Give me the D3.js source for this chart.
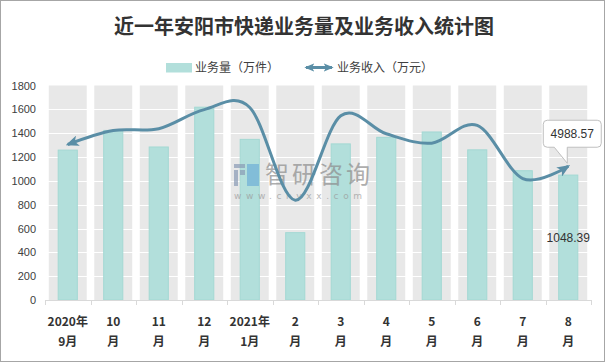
<!DOCTYPE html>
<html>
<head>
<meta charset="utf-8">
<script src="https://cdn.jsdelivr.net/npm/d3@7"></script>
<style>
  html, body { margin: 0; padding: 0; background: #fff; }
  svg { display: block; }
</style>
</head>
<body>
<svg id="chart" width="606" height="364"></svg>
<script>
// ---------- data ----------
const catLine1 = ["2020年", "10", "11", "12", "2021年", "2", "3", "4", "5", "6", "7", "8"];
const catLine2 = ["9月", "月", "月", "月", "1月", "月", "月", "月", "月", "月", "月", "月"];
const volume = [1258, 1423, 1284, 1618, 1348, 565, 1310, 1365, 1410, 1260, 1085, 1048.39];   // 业务量（万件）
const revenue = [5800, 6320, 6390, 7100, 7180, 3720, 6870, 6200, 5850, 6510, 4530, 4988.57]; // 业务收入（万元）
const yTicks = [0, 200, 400, 600, 800, 1000, 1200, 1400, 1600, 1800];
const title = "近一年安阳市快递业务量及业务收入统计图";
const legendLabels = ["业务量（万件）", "业务收入（万元）"];
const labelVolumeIndex = 11;
const labelRevenueIndex = 11;

// ---------- layout ----------
const svg = d3.select("#chart");
const plot = { left: 45, right: 591, top: 85.5, bottom: 300 };
const barColor = "#b2dfdb", barStroke = "#a3d8d3";
const lineColor = "#5a8ea6";
const bandColor = "#e8e8e8";

svg.append("rect").attr("x", 0.5).attr("y", 0.5).attr("width", 604).attr("height", 361)
  .attr("fill", "#fff").attr("stroke", "#a6a6a6");

const x = d3.scaleBand().domain(d3.range(volume.length)).range([plot.left, plot.right]);
const y = d3.scaleLinear().domain([0, 1800]).range([plot.bottom, plot.top]);
const y2 = d3.scaleLinear().domain([0, 8000]).range([plot.bottom, plot.top]);
const step = x.step();

// title
svg.append("text").attr("x", 304).attr("y", 34).attr("text-anchor", "middle")
  .attr("font-family", "'Noto Sans CJK SC', sans-serif").attr("font-weight", "bold")
  .attr("font-size", 20).attr("fill", "#333").text(title);

// legend
const lg = svg.append("g").attr("font-family", "'Noto Sans CJK SC', sans-serif").attr("font-size", 12).attr("fill", "#404040");
lg.append("rect").attr("x", 166).attr("y", 63).attr("width", 26).attr("height", 9.5).attr("fill", barColor);
lg.append("text").attr("x", 195).attr("y", 72).text(legendLabels[0]);

// arrow markers
const defs = svg.append("defs");
defs.append("marker").attr("id", "arr").attr("viewBox", "0 0 12 10")
  .attr("refX", 10).attr("refY", 5).attr("markerWidth", 13).attr("markerHeight", 11)
  .attr("markerUnits", "userSpaceOnUse").attr("orient", "auto-start-reverse")
  .append("path").attr("d", "M0,0 L12,5 L0,10 L3,5 Z").attr("fill", lineColor);
defs.append("marker").attr("id", "arrS").attr("viewBox", "0 0 12 10")
  .attr("refX", 10).attr("refY", 5).attr("markerWidth", 10).attr("markerHeight", 9)
  .attr("markerUnits", "userSpaceOnUse").attr("orient", "auto-start-reverse")
  .append("path").attr("d", "M0,0 L12,5 L0,10 L3,5 Z").attr("fill", lineColor);

lg.append("line").attr("x1", 306).attr("x2", 332).attr("y1", 67.5).attr("y2", 67.5)
  .attr("stroke", lineColor).attr("stroke-width", 3)
  .attr("marker-start", "url(#arrS)").attr("marker-end", "url(#arrS)");
lg.append("text").attr("x", 337).attr("y", 72).text(legendLabels[1]);

// gray category bands
const bandW = step * 0.835;
svg.append("g").selectAll("rect").data(volume).join("rect")
  .attr("x", (d, i) => x(i) + (step - bandW) / 2)
  .attr("y", y(1800)).attr("width", bandW).attr("height", y(0) - y(1800))
  .attr("fill", bandColor);

// white gridlines
svg.append("g").selectAll("line").data(yTicks.slice(1, -1)).join("line")
  .attr("x1", plot.left).attr("x2", plot.right)
  .attr("y1", d => Math.round(y(d)) + 0.5).attr("y2", d => Math.round(y(d)) + 0.5)
  .attr("stroke", "#fff").attr("stroke-width", 1);

// bars
const barW = step * 0.42;
svg.append("g").selectAll("rect").data(volume).join("rect")
  .attr("x", (d, i) => x(i) + (step - barW) / 2)
  .attr("y", d => y(d)).attr("width", barW).attr("height", d => y(0) - y(d))
  .attr("fill", barColor).attr("stroke", barStroke).attr("stroke-width", 1);

// watermark (drawn above bars)
const wm = svg.append("g").attr("opacity", 0.7);
wm.append("rect").attr("x", 234).attr("y", 164).attr("width", 11).attr("height", 4).attr("fill", "#8a9bb5");
wm.append("rect").attr("x", 234).attr("y", 170).attr("width", 4).attr("height", 16).attr("fill", "#8a9bb5");
wm.append("rect").attr("x", 240).attr("y", 170).attr("width", 5).attr("height", 5).attr("fill", "#8a9bb5");
wm.append("rect").attr("x", 247).attr("y", 164).attr("width", 12).attr("height", 22).attr("fill", "#6fb0d8");
wm.append("text").attr("x", 265).attr("y", 183).attr("font-family", "'Noto Sans CJK SC', sans-serif")
  .attr("font-size", 24).attr("fill", "#8c8c8c").attr("letter-spacing", 3).text("智研咨询");
wm.append("text").attr("x", 234).attr("y", 199).attr("font-family", "'DejaVu Sans', sans-serif")
  .attr("font-size", 9).attr("fill", "#9a9a9a").attr("letter-spacing", 4.6).text("www.chyxx.com");

// x axis line + ticks
const ax = svg.append("g").attr("stroke", "#d9d9d9").attr("stroke-width", 1);
ax.append("line").attr("x1", plot.left).attr("x2", plot.right).attr("y1", 300.5).attr("y2", 300.5);
ax.selectAll("line.t").data(d3.range(volume.length + 1)).join("line").attr("class", "t")
  .attr("x1", i => Math.round(plot.left + i * step) + 0.5).attr("x2", i => Math.round(plot.left + i * step) + 0.5)
  .attr("y1", 300).attr("y2", 305);

// y axis labels
svg.append("g").selectAll("text").data(yTicks).join("text")
  .attr("x", 36).attr("y", d => y(d) + 4).attr("text-anchor", "end")
  .attr("font-family", "'Liberation Sans', Arial, sans-serif").attr("font-size", 11).attr("fill", "#404040")
  .text(d => d);

// x labels
const xl = svg.append("g").attr("font-family", "'Noto Sans CJK SC', sans-serif").attr("font-weight", "bold")
  .attr("font-size", 12).attr("fill", "#333").attr("text-anchor", "middle");
xl.selectAll("text.l1").data(catLine1).join("text").attr("class", "l1")
  .attr("x", (d, i) => x(i) + step / 2).attr("y", 326).text(d => d);
xl.selectAll("text.l2").data(catLine2).join("text").attr("class", "l2")
  .attr("x", (d, i) => x(i) + step / 2).attr("y", 346).text(d => d);

// revenue line
const line = d3.line().x((d, i) => x(i) + step / 2).y(d => y2(d)).curve(d3.curveCardinal.tension(0));
svg.append("path").datum(revenue).attr("d", line).attr("fill", "none")
  .attr("stroke", lineColor).attr("stroke-width", 3)
  .attr("marker-start", "url(#arr)").attr("marker-end", "url(#arr)");

// callout label for last revenue point
const px = x(labelRevenueIndex) + step / 2, py = y2(revenue[labelRevenueIndex]);
const bx0 = px - 25, bx1 = px + 33, by0 = py - 46, by1 = py - 19, r = 4;
const tipX = px - 1, tipY = py - 3;
const callout = `M${bx0 + r},${by0} L${bx1 - r},${by0} Q${bx1},${by0} ${bx1},${by0 + r} L${bx1},${by1 - r} Q${bx1},${by1} ${bx1 - r},${by1}
  L${tipX},${by1} L${tipX},${tipY} L${px - 14},${by1} L${bx0 + r},${by1} Q${bx0},${by1} ${bx0},${by1 - r} L${bx0},${by0 + r} Q${bx0},${by0} ${bx0 + r},${by0} Z`;
svg.append("path").attr("d", callout).attr("fill", "#fff").attr("stroke", "#bfbfbf").attr("stroke-width", 1);
svg.append("text").attr("x", (bx0 + bx1) / 2).attr("y", (by0 + by1) / 2 + 4.5).attr("text-anchor", "middle")
  .attr("font-family", "'Liberation Sans', Arial, sans-serif").attr("font-size", 12).attr("fill", "#333")
  .text(revenue[labelRevenueIndex].toFixed(2));

// volume label
svg.append("text").attr("x", x(labelVolumeIndex) + step / 2).attr("y", y(0) - 58).attr("text-anchor", "middle")
  .attr("font-family", "'Liberation Sans', Arial, sans-serif").attr("font-size", 12).attr("fill", "#333")
  .text(volume[labelVolumeIndex].toFixed(2));
</script>
</body>
</html>
